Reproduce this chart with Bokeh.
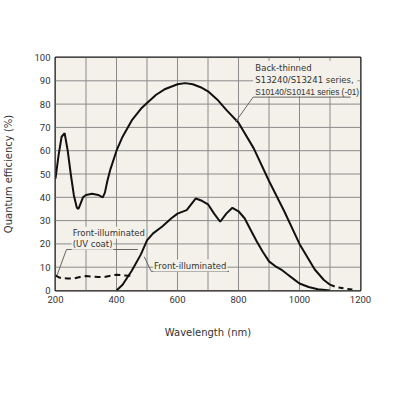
from bokeh.plotting import figure
from bokeh.models import FixedTicker, Label, Range1d
from bokeh.embed import file_html
from bokeh.resources import INLINE

# Back-thinned (S13240/S13241, S10140/S10141 -01)
bt_wl = [200, 210, 220, 230, 240, 250, 260, 270, 275, 280, 290, 300, 320, 340, 355,
         362, 370, 380, 400, 420, 450, 480, 500, 530, 560, 600, 625, 650, 680, 700,
         730, 760, 800, 850, 900, 950, 1000, 1050, 1080, 1100]
bt_qe = [48, 58, 66, 67.5, 60, 50, 41, 35.5, 35, 36.5, 40, 41, 41.5, 41, 40,
         42, 47, 52, 60, 66, 73, 78, 80.5, 84, 86.5, 88.5, 89, 88.5, 87, 85.5,
         82, 77.5, 72, 61, 47, 34, 20, 9, 4.5, 2.5]
# Back-thinned, dashed extension
bt_ext_wl = [1100, 1120, 1150, 1180]
bt_ext_qe = [2.5, 1.5, 0.8, 0.3]

# Front-illuminated
fi_wl = [400, 420, 450, 480, 500, 520, 550, 580, 600, 630, 660, 680, 700, 720, 740,
         760, 780, 800, 820, 840, 860, 880, 900, 920, 940, 960, 980, 1000, 1030, 1060, 1100]
fi_qe = [0, 2.5, 8.5, 15.5, 21.5, 24.5, 27.5, 31, 33, 34.5, 39.5, 38.5, 37, 33, 29.5,
         33, 35.5, 34, 31, 26, 21, 16.5, 12.5, 10.5, 9, 7, 5, 3, 1.5, 0.5, 0]

# Front-illuminated (UV coat)
uv_wl = [200, 210, 220, 240, 260, 280, 300, 320, 340, 360, 380, 400, 420, 450]
uv_qe = [6.5, 5.7, 5.3, 5.2, 5.2, 5.8, 6.2, 6.0, 5.8, 5.8, 6.3, 6.8, 6.5, 6.3]

x_ticks = [200, 400, 600, 800, 1000, 1200]
x_grid = [300, 400, 500, 600, 700, 800, 900, 1000, 1100]
y_ticks = [0, 10, 20, 30, 40, 50, 60, 70, 80, 90, 100]
y_grid = [10, 20, 30, 40, 50, 60, 70, 80, 90]

X_MIN, X_MAX, Y_MIN, Y_MAX = 200, 1200, 0, 100

BG = "#f3f1e9"
GRID = "#8a8a8a"
TXT = "#333333"
FONT = "DejaVu Sans"

p = figure(width=394, height=390, output_backend="svg", toolbar_location=None,
           x_range=Range1d(X_MIN, X_MAX), y_range=Range1d(Y_MIN, Y_MAX),
           min_border_left=54, min_border_top=57, min_border_right=34, min_border_bottom=100)
p.background_fill_color = BG
p.border_fill_color = "white"
p.outline_line_color = "#111111"
p.outline_line_width = 2
p.xgrid.grid_line_color = None
p.ygrid.grid_line_color = None

p.xaxis.ticker = FixedTicker(ticks=x_ticks)
p.yaxis.ticker = FixedTicker(ticks=y_ticks)

for ax in (p.xaxis, p.yaxis):
    ax.axis_line_color = None
    ax.major_tick_line_color = None
    ax.minor_tick_line_color = None
    ax.major_tick_out = 0
    ax.major_tick_in = 0
    ax.major_label_text_font = "Roboto"
    ax.major_label_text_font_size = "9.5px"
    ax.major_label_text_color = TXT
    ax.axis_label_text_font = FONT
    ax.axis_label_text_font_size = "10px"
    ax.axis_label_text_font_style = "normal"
    ax.axis_label_text_color = TXT

p.xaxis.axis_label = "Wavelength (nm)"
p.yaxis.axis_label = "Quantum efficiency (%)"
p.xaxis.major_label_standoff = 5
p.yaxis.major_label_standoff = 5
p.xaxis.axis_label_standoff = 21
p.yaxis.axis_label_standoff = 17

# plot background and grid drawn as glyphs
p.quad(left=[X_MIN], right=[X_MAX], bottom=[Y_MIN], top=[Y_MAX], fill_color=BG, line_color=None)
p.segment(x0=x_grid, y0=[Y_MIN] * len(x_grid), x1=x_grid, y1=[Y_MAX] * len(x_grid),
          line_color=GRID, line_width=1)
p.segment(x0=[X_MIN] * len(y_grid), y0=y_grid, x1=[X_MAX] * len(y_grid), y1=y_grid,
          line_color=GRID, line_width=1)

# background panel behind the back-thinned label block (hides grid)
p.quad(left=[848], right=[1190], bottom=[83.3], top=[98.6],
       fill_color=BG, line_color=None)

p.line(bt_wl, bt_qe, line_color="#111111", line_width=2)
p.line(bt_ext_wl, bt_ext_qe, line_color="#111111", line_width=2, line_dash="5 4")
p.line(fi_wl, fi_qe, line_color="#111111", line_width=2)
p.line(uv_wl, uv_qe, line_color="#111111", line_width=2, line_dash="6 4")

# leader lines
LC = "#666666"
p.segment(x0=[236, 205, 514, 491, 848, 791],
          y0=[17.6, 6.5, 8.2, 14.5, 83.0, 72.5],
          x1=[470, 236, 769, 514, 1168, 848],
          y1=[17.6, 17.6, 8.2, 8.2, 83.0, 83.0],
          line_color=LC, line_width=1)


def lab(x, y, text, size="8.5px", font=FONT, align="left", bg=BG):
    p.add_layout(Label(x=x, y=y, text=text, text_font=font, text_font_size=size,
                       text_color=TXT, text_align=align, text_baseline="middle",
                       background_fill_color=bg, padding=1))


lab(852, 95.5, "Back-thinned", bg=None)
lab(852, 90.2, "S13240/S13241 series,", bg=None)
lab(852, 85.0, "S10140/S10141 series (-01)", size="8.3px", font="Liberation Sans", bg=None)
lab(253, 24.8, "Front-illuminated")
lab(253, 20.1, "(UV coat)")
lab(520, 10.7, "Front-illuminated")
lab(1200, 101.9, "(Typ. Ta=25 \u00b0C)", size="9px", align="right", bg=None)
lab(1308, -25.3, "KMPDB0405EA", size="5.5px", align="right", bg=None)

open("out.html", "w").write(file_html(p, INLINE))
